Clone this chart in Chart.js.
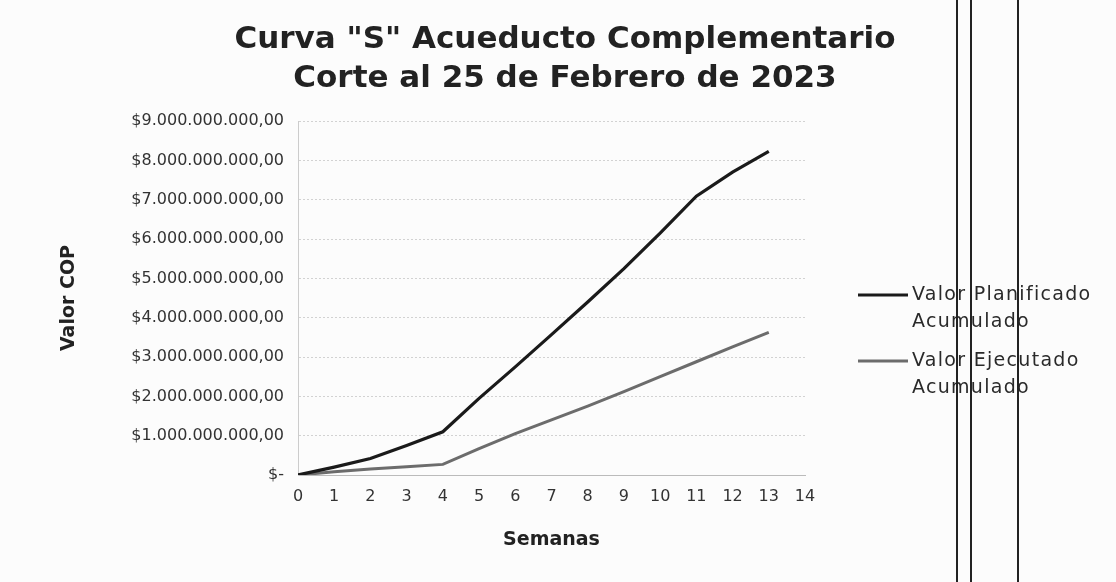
<!DOCTYPE html>
<html>
<head>
<meta charset="utf-8">
<script src="https://cdn.jsdelivr.net/npm/chart.js@4/dist/chart.umd.min.js"></script>
<style>
  html, body { margin: 0; padding: 0; background: #fcfcfc; }
  #wrap { position: relative; width: 1116px; height: 582px; }
  .rule { position: absolute; top: 0; height: 582px; width: 1.5px; background: #222; }
</style>
</head>
<body>
<div id="wrap">
  <canvas id="chart" width="1116" height="582"></canvas>
  <div class="rule" style="left:956px"></div>
  <div class="rule" style="left:970px"></div>
  <div class="rule" style="left:1017px"></div>
</div>
<script>
const titleLines = ['Curva "S" Acueducto Complementario', "Corte al 25 de Febrero de 2023"];
const weeks = [0, 1, 2, 3, 4, 5, 6, 7, 8, 9, 10, 11, 12, 13];
const planned = [0, 0.2e9, 0.42e9, 0.75e9, 1.1e9, 1.95e9, 2.75e9, 3.57e9, 4.4e9, 5.25e9, 6.15e9, 7.09e9, 7.7e9, 8.23e9];
const executed = [0, 0.08e9, 0.15e9, 0.21e9, 0.27e9, 0.67e9, 1.05e9, 1.4e9, 1.75e9, 2.12e9, 2.5e9, 2.88e9, 3.26e9, 3.63e9];
const seriesNames = [["Valor Planificado", "Acumulado"], ["Valor Ejecutado", "Acumulado"]];
const seriesColors = ["#1a1a1a", "#6c6c6c"];

const font = "'DejaVu Sans', sans-serif";

function money(v) {
  if (v === 0) return "$-";
  const n = Math.round(v).toString().replace(/\B(?=(\d{3})+(?!\d))/g, ".");
  return "$" + n + ",00";
}

// legend at the right, each name on two lines
const sideLegend = {
  id: "sideLegend",
  afterDraw(chart) {
    const { ctx, chartArea } = chart;
    const x0 = chartArea.right + 53;
    let y = chartArea.top + 174;
    ctx.save();
    ctx.font = "19px " + font;
    ctx.letterSpacing = "1.3px";
    ctx.textBaseline = "middle";
    chart.data.datasets.forEach((ds, i) => {
      ctx.strokeStyle = ds.borderColor;
      ctx.lineWidth = 3;
      ctx.beginPath();
      ctx.moveTo(x0, y);
      ctx.lineTo(x0 + 50, y);
      ctx.stroke();
      ctx.fillStyle = "#2a2a2a";
      seriesNames[i].forEach((line, j) => ctx.fillText(line, x0 + 54, y + j * 27));
      y += 66;
    });
    ctx.restore();
  },
};

new Chart(document.getElementById("chart"), {
  type: "line",
  data: {
    datasets: [
      {
        label: seriesNames[0].join(" "),
        data: weeks.map((w, i) => ({ x: w, y: planned[i] })),
        borderColor: seriesColors[0],
        borderWidth: 3.2,
        pointRadius: 0,
        tension: 0,
      },
      {
        label: seriesNames[1].join(" "),
        data: weeks.map((w, i) => ({ x: w, y: executed[i] })),
        borderColor: seriesColors[1],
        borderWidth: 3,
        pointRadius: 0,
        tension: 0,
      },
    ],
  },
  plugins: [sideLegend],
  options: {
    responsive: false,
    animation: false,
    layout: { padding: { left: 14, right: 0, top: 0, bottom: 27 } },
    plugins: {
      legend: { display: false },
      tooltip: { enabled: false },
      title: {
        display: true,
        text: titleLines,
        color: "#222",
        font: { family: font, size: 31, weight: "bold", lineHeight: 1.26 },
        padding: { top: 20, bottom: 23 },
      },
    },
    scales: {
      x: {
        type: "linear",
        min: 0,
        max: 14,
        ticks: { stepSize: 1, color: "#333", font: { family: font, size: 16 }, padding: 12 },
        grid: { display: false, drawTicks: false },
        border: { color: "#bbb" },
        title: { display: true, text: "Semanas", color: "#222", font: { family: font, size: 19, weight: "bold" }, padding: { top: 6, bottom: 4 } },
        afterFit(scale) { scale.height = 80; },
      },
      y: {
        min: 0,
        max: 9e9,
        ticks: { stepSize: 1e9, color: "#333", font: { family: font, size: 16 }, padding: 14, callback: money },
        grid: { color: "#d2d2d2", drawTicks: false },
        border: { color: "#ccc", dash: [2, 2] },
        title: { display: true, text: "Valor COP", color: "#222", font: { family: font, size: 19, weight: "bold" }, padding: { top: 44, bottom: 0 } },
        afterFit(scale) { scale.width = 284; },
      },
      // empty right-hand axis that keeps room for the legend
      side: {
        position: "right",
        grid: { display: false },
        ticks: { display: false },
        border: { display: false },
        afterFit(scale) { scale.width = 311; },
      },
    },
  },
});
</script>
</body>
</html>
